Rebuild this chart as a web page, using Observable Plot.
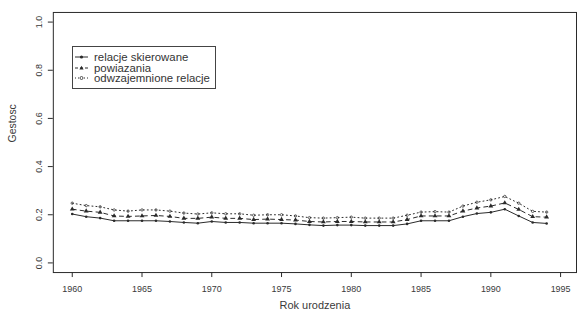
<!DOCTYPE html>
<html>
<head>
<meta charset="utf-8">
<script src="https://cdn.jsdelivr.net/npm/d3@7"></script>
<script src="https://cdn.jsdelivr.net/npm/@observablehq/plot@0.6"></script>
<style>
  html, body { margin: 0; padding: 0; background: #fff; overflow: hidden; }
  #wrap { position: relative; width: 577px; height: 315px; overflow: hidden; }
  #legend { position: absolute; left: 72px; top: 46px; width: 144px; height: 43px;
    border: 1px solid #444; background: #fff; box-sizing: border-box;
    font-family: "Liberation Sans", Arial, sans-serif; font-size: 11.4px; color: #333;
    padding-top: 5px; }
  #legend .row { display: flex; align-items: center; height: 10.5px; line-height: 10.5px; white-space: nowrap; }
  #legend svg { margin-left: 2px; margin-right: 6px; flex: none; }
</style>
</head>
<body>
<div id="wrap"><div id="legend"></div></div>
<script>
const years = [1960,1961,1962,1963,1964,1965,1966,1967,1968,1969,1970,1971,1972,1973,1974,1975,1976,1977,1978,1979,1980,1981,1982,1983,1984,1985,1986,1987,1988,1989,1990,1991,1992,1993,1994];
const skierowane = [0.203,0.192,0.186,0.175,0.175,0.175,0.175,0.172,0.168,0.165,0.172,0.168,0.168,0.165,0.165,0.165,0.162,0.158,0.155,0.157,0.157,0.155,0.155,0.155,0.162,0.175,0.175,0.175,0.192,0.205,0.210,0.223,0.195,0.168,0.164];
const powiazania = [0.223,0.215,0.210,0.195,0.193,0.195,0.197,0.193,0.185,0.185,0.190,0.185,0.185,0.180,0.182,0.180,0.178,0.172,0.170,0.172,0.172,0.170,0.170,0.170,0.180,0.195,0.195,0.195,0.215,0.228,0.236,0.249,0.222,0.192,0.190];
const odwzajemnione = [0.248,0.238,0.233,0.220,0.215,0.220,0.220,0.215,0.207,0.203,0.208,0.204,0.204,0.198,0.200,0.200,0.195,0.188,0.186,0.188,0.190,0.186,0.186,0.186,0.198,0.211,0.213,0.211,0.236,0.252,0.262,0.276,0.248,0.214,0.211];
const seriesNames = ["relacje skierowane", "powiazania", "odwzajemnione relacje"];
const xTicks = [1960,1965,1970,1975,1980,1985,1990,1995];
const yTicks = [0.0,0.2,0.4,0.6,0.8,1.0];

const rows = [];
[skierowane, powiazania, odwzajemnione].forEach((arr, s) => {
  arr.forEach((v, i) => rows.push({year: years[i], value: v, series: seriesNames[s]}));
});
const bySeries = name => rows.filter(d => d.series === name);

const ink = "#2a2a2a";
const txt = "#3a3a3a";
const plot = Plot.plot({
  width: 579, height: 315,
  marginLeft: 53, marginRight: 1, marginTop: 12, marginBottom: 42,
  style: {fontFamily: "'Liberation Sans', Arial, sans-serif", fontSize: "9px", background: "white", color: txt},
  x: {domain: [1958.643, 1996.14], range: [53, 578]},
  y: {domain: [-0.04, 1.04], range: [273, 12]},
  marks: [
    Plot.frame({stroke: ink, strokeWidth: 1}),
    Plot.axisX({ticks: xTicks, tickSize: 5, tickPadding: 8, tickFormat: d => String(d), label: null, stroke: ink}),
    Plot.axisY({ticks: yTicks, tickSize: 5, tickPadding: 6, tickFormat: d3.format(".1f"), tickRotate: -90, label: null, stroke: ink}),
    Plot.text(["Rok urodzenia"], {frameAnchor: "bottom", text: d => d, dy: 37, fontSize: 11, fill: txt}),
    Plot.text(["Gestosc"], {frameAnchor: "left", text: d => d, dx: -41, rotate: -90, fontSize: 10.5, fill: txt}),
    Plot.line(bySeries(seriesNames[0]), {x: "year", y: "value", stroke: ink, strokeWidth: 1}),
    Plot.line(bySeries(seriesNames[1]), {x: "year", y: "value", stroke: ink, strokeWidth: 1, strokeDasharray: "4,4"}),
    Plot.line(bySeries(seriesNames[2]), {x: "year", y: "value", stroke: ink, strokeWidth: 1, strokeDasharray: "1,3"}),
    Plot.dot(bySeries(seriesNames[0]), {x: "year", y: "value", r: 1.3, fill: ink, stroke: "none"}),
    Plot.dot(bySeries(seriesNames[1]), {x: "year", y: "value", r: 1.8, symbol: "triangle", fill: ink, stroke: "none"}),
    Plot.dot(bySeries(seriesNames[2]), {x: "year", y: "value", r: 1.2, stroke: ink, strokeWidth: 0.7, fill: "none"})
  ]
});
const wrap = document.getElementById("wrap");
wrap.insertBefore(plot, wrap.firstChild);

// legend
const legend = document.getElementById("legend");
const symbols = [
  `<line x1="0" y1="5" x2="13" y2="5" stroke="${ink}"/><circle cx="6.5" cy="5" r="1.6" fill="${ink}"/>`,
  `<line x1="0" y1="5" x2="13" y2="5" stroke="${ink}" stroke-dasharray="3,2"/><path d="M6.5,2.8 L8.6,6.5 L4.4,6.5 Z" fill="${ink}"/>`,
  `<line x1="0" y1="5" x2="13" y2="5" stroke="${ink}" stroke-dasharray="1,2"/><circle cx="6.5" cy="5" r="1.5" fill="#fff" stroke="${ink}" stroke-width="0.8"/>`
];
seriesNames.forEach((name, i) => {
  const row = document.createElement("div");
  row.className = "row";
  row.innerHTML = `<svg width="13" height="10">${symbols[i]}</svg><span>${name}</span>`;
  legend.appendChild(row);
});
</script>
</body>
</html>
